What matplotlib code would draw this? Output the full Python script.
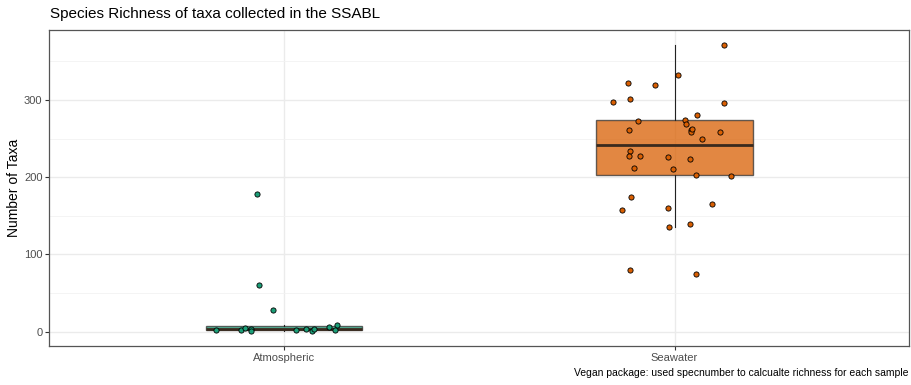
import matplotlib.pyplot as plt
from matplotlib.ticker import MultipleLocator

plt.rcParams["font.family"] = ["Liberation Sans", "DejaVu Sans"]

groups = ["Atmospheric", "Seawater"]
colors = ["#1B9E77", "#D95F02"]

# richness per sample (specnumber output)
atmospheric = [2, 2, 5, 4, 1, 2, 3, 1, 4, 6, 9, 2, 178, 61, 28]
seawater = [
    371, 332, 322, 319, 297, 301, 296, 280, 273, 274, 269, 261, 261, 258,
    259, 249, 234, 228, 227, 226, 224, 212, 211, 203, 202, 174, 157, 160,
    165, 136, 139, 80, 75, 262,
]

# horizontal jitter of each sample, in category units
atmospheric_jitter = [
    -0.173, -0.109, -0.100, -0.085, -0.083, 0.032, 0.056, 0.071, 0.077,
    0.115, 0.136, 0.130, -0.069, -0.063, -0.028,
]
seawater_jitter = [
    0.127, 0.010, -0.119, -0.051, -0.158, -0.115, 0.126, 0.057, -0.093,
    0.027, 0.028, -0.117, 0.042, 0.042, 0.115, 0.070, -0.115, -0.116,
    -0.088, -0.018, 0.040, -0.105, -0.003, 0.055, 0.144, -0.112, -0.135,
    -0.016, 0.095, -0.013, 0.039, -0.115, 0.056, 0.045,
]

data = [atmospheric, seawater]
jitters = [atmospheric_jitter, seawater_jitter]

fig = plt.figure(figsize=(9.11, 3.85), dpi=100)
ax = fig.add_axes([0.0543, 0.1013, 0.9435, 0.8207])

positions = [1, 2]
bp = ax.boxplot(
    data,
    positions=positions,
    widths=0.4,
    patch_artist=True,
    showfliers=False,
    showcaps=False,
    whis=1.5,
    zorder=2,
)
for box, c in zip(bp["boxes"], colors):
    box.set_facecolor(c)
    box.set_alpha(0.75)
    box.set_edgecolor("#333333")
    box.set_linewidth(1.0)
for med in bp["medians"]:
    med.set_color("#3a2a1e")
    med.set_linewidth(2.0)
for w in bp["whiskers"]:
    w.set_color("#222222")
    w.set_linewidth(0.8)

for pos, vals, jit, c in zip(positions, data, jitters, colors):
    xs = [pos + j for j in jit]
    ax.scatter(xs, vals, s=14, facecolor=c, edgecolor="black",
               linewidth=0.6, zorder=3)

ax.set_xlim(0.4, 2.6)
ax.set_ylim(-18.6, 390.6)
ax.set_xticks(positions)
ax.set_xticklabels(groups)
ax.yaxis.set_major_locator(MultipleLocator(100))
ax.yaxis.set_minor_locator(MultipleLocator(50))

ax.grid(which="major", color="#EBEBEB", linewidth=1.0, zorder=0)
ax.grid(which="minor", axis="y", color="#F2F2F2", linewidth=0.6, zorder=0)
ax.set_axisbelow(True)

ax.tick_params(axis="both", which="major", length=3, width=0.8,
               color="#333333", labelcolor="#4D4D4D", labelsize=8, pad=2)
ax.tick_params(axis="y", which="minor", length=0)
for sp in ax.spines.values():
    sp.set_color("#555555")
    sp.set_linewidth(0.9)

ax.set_ylabel("Number of Taxa", fontsize=10, labelpad=2)
fig.text(0.055, 0.963, "Species Richness of taxa collected in the SSABL",
         fontsize=11, ha="left", va="center")
fig.text(0.997, 0.03,
         "Vegan package: used specnumber to calcualte richness for each sample",
         fontsize=7.5, ha="right", va="center")

fig.savefig("out.png", dpi=100)
